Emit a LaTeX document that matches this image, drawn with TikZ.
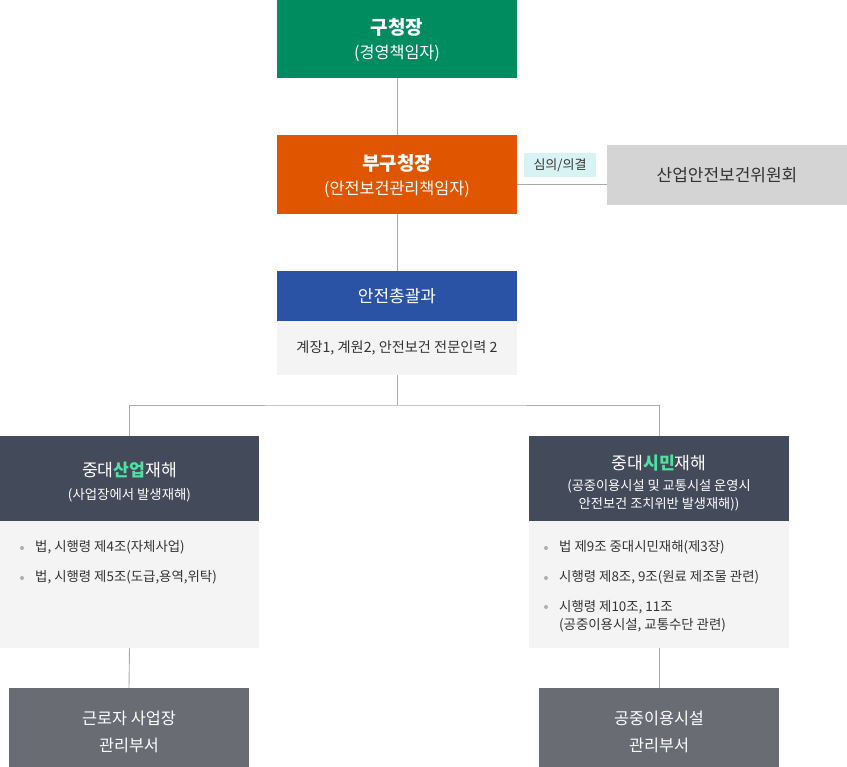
\documentclass[tikz,border=0pt]{standalone}
\usepackage{fontspec}
\setmainfont{Noto Sans CJK KR}
\definecolor{cgreen}{RGB}{0,140,95}
\definecolor{corange}{RGB}{224,85,0}
\definecolor{cblue}{RGB}{42,82,165}
\definecolor{cnavy}{RGB}{67,74,90}
\definecolor{cbody}{RGB}{244,244,244}
\definecolor{cgray}{RGB}{212,212,212}
\definecolor{cdark}{RGB}{106,108,116}
\definecolor{ccyan}{RGB}{216,243,243}
\definecolor{cline}{RGB}{170,170,170}
\definecolor{chl}{RGB}{80,225,160}
\definecolor{ctext}{RGB}{51,51,51}
\definecolor{cbullet}{RGB}{175,175,175}
\begin{document}
\begin{tikzpicture}[x=1pt,y=-1pt,
  box/.style={inner sep=0pt,outer sep=0pt,anchor=north west,align=center},
  conn/.style={draw=cline,line width=0.9pt},
  btxt/.style={anchor=west,inner sep=0pt,font=\fontsize{13.4}{18}\selectfont,text=ctext,align=left},
  bdot/.style={circle,fill=cbullet,inner sep=0pt,minimum size=4pt}]
\useasboundingbox[fill=white] (0,0) rectangle (847,767);
% top
\node[box,fill=cgreen,minimum width=240pt,minimum height=78pt,text=white,font=\fontsize{16.3}{24}\selectfont] (head) at (277,0)
  {{\fontsize{19}{24}\selectfont\bfseries\rule{0pt}{18.5pt}구청장}\\(경영책임자)};
\node[box,fill=corange,minimum width=240pt,minimum height=79pt,text=white,font=\fontsize{16.3}{24}\selectfont] (vice) at (277,135)
  {{\fontsize{19}{24}\selectfont\bfseries\rule{0pt}{18.5pt}부구청장}\\(안전보건관리책임자)};
\node[box,fill=cgray,minimum width=240pt,minimum height=60pt,text=ctext,font=\fontsize{17}{20}\selectfont] (comm) at (607,145) {산업안전보건위원회};
\node[box,fill=ccyan,minimum width=72pt,minimum height=24pt,text=ctext,font=\fontsize{13}{15}\selectfont] (lbl) at (524,153) {심의/의결};
% team
\node[box,fill=cblue,minimum width=240pt,minimum height=50pt,text=white,font=\fontsize{17}{20}\selectfont] (team) at (277,271) {안전총괄과};
\node[box,fill=cbody,minimum width=240pt,minimum height=54pt,text=ctext,font=\fontsize{14.2}{17}\selectfont] (teamb) at (277,321) {계장1, 계원2, 안전보건 전문인력 2};
% left branch
\node[box,fill=cnavy,minimum width=259pt,minimum height=85pt,text=white,font=\fontsize{13.4}{23}\selectfont] (lh) at (0,436)
  {{\fontsize{17.2}{23}\selectfont\rule{0pt}{21pt}중대\textcolor{chl}{\bfseries 산업}재해}\\(사업장에서 발생재해)};
\node[box,fill=cbody,minimum width=259pt,minimum height=127pt] (lb) at (0,521) {};
\node[bdot] (ld1) at (22,548) {};
\node[btxt] (lt1) at (35,547) {법, 시행령 제4조(자체사업)};
\node[bdot] (ld2) at (22,578) {};
\node[btxt] (lt2) at (35,577) {법, 시행령 제5조(도급,용역,위탁)};
\node[box,fill=cdark,minimum width=240pt,minimum height=79pt,text=white,font=\fontsize{16.3}{27}\selectfont] (lbot) at (9,688) {\rule{0pt}{22pt}근로자 사업장\\관리부서};
% right branch
\node[box,fill=cnavy,minimum width=260pt,minimum height=85pt,text=white,font=\fontsize{13.2}{17.5}\selectfont] (rh) at (529,436)
  {{\fontsize{17.2}{23}\selectfont\rule{0pt}{23pt}중대\textcolor{chl}{\bfseries 시민}재해}\\[4pt](공중이용시설 및 교통시설 운영시\\안전보건 조치위반 발생재해))};
\node[box,fill=cbody,minimum width=260pt,minimum height=127pt] (rb) at (529,521) {};
\node[bdot] (rd1) at (546,548) {};
\node[btxt] (rt1) at (559,547) {법 제9조 중대시민재해(제3장)};
\node[bdot] (rd2) at (546,578) {};
\node[btxt] (rt2) at (559,577) {시행령 제8조, 9조(원료 제조물 관련)};
\node[bdot] (rd3) at (546,607) {};
\node[btxt] (rt3) at (559,616) {시행령 제10조, 11조\\(공중이용시설, 교통수단 관련)};
\node[box,fill=cdark,minimum width=240pt,minimum height=79pt,text=white,font=\fontsize{16.3}{27}\selectfont] (rbot) at (539,688) {\rule{0pt}{22pt}공중이용시설\\관리부서};
% connectors
\coordinate (split) at ([yshift=-30pt]teamb.south);
\draw[conn] (head.south) -- (vice.north);
\draw[conn] (vice.south) -- (team.north);
\draw[conn] ([yshift=-9.5pt]vice.east) -- ([yshift=-9.5pt]vice.east -| comm.west);
\draw[conn] (teamb.south) -- (split);
\draw[conn] (lh.north) |- (split) -| (rh.north);
\draw[conn] (lb.south) -- (lbot.north);
\draw[conn] (rb.south) -- (rbot.north);
\end{tikzpicture}
\end{document}
